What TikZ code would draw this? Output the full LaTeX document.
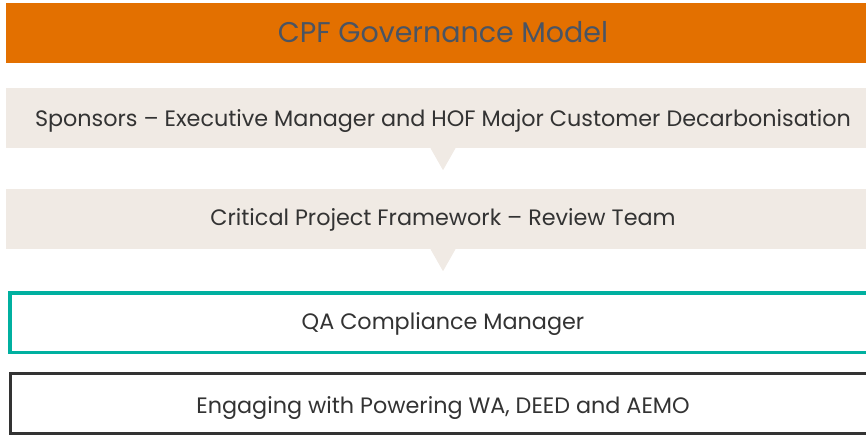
\documentclass[tikz,border=0pt]{standalone}
\usepackage{fontspec}
\setmainfont{Poppins}
\usetikzlibrary{positioning}
\definecolor{cpforange}{HTML}{E37000}
\definecolor{cpfbeige}{HTML}{F0EAE4}
\definecolor{cpfteal}{HTML}{00B0A0}
\definecolor{cpfdark}{HTML}{333333}
\definecolor{cpfslate}{HTML}{4A5463}
\tikzset{
  band/.style={minimum width=874pt, minimum height=60pt, inner sep=0pt,
    text=cpfdark, font=\fontsize{22.3}{26}\selectfont,
    text height=16pt, text depth=0pt},
  framed/.style={band, minimum width=866pt, minimum height=59.5pt, fill=white}
}

\begin{document}
\begin{tikzpicture}[x=1pt, y=1pt]
  \useasboundingbox (0,0) rectangle (866,-435);

  \node [band, fill=cpforange, text=cpfslate, font=\fontsize{28.5}{32}\selectfont, text height=19.4pt] (title) at (443, -33) {CPF Governance Model};
  \node [band, fill=cpfbeige, text height=17.4pt] (sponsors) at (443, -118) {Sponsors – Executive Manager and HOF Major Customer Decarbonisation};
  \node [band, fill=cpfbeige, text height=14pt] (review) at (443, -219) {Critical Project Framework – Review Team};
  \node [framed, draw=cpfteal, line width=3.5pt, text height=13.6pt] (qa) at (443, -322.5) {QA Compliance Manager};
  \node [framed, draw=cpfdark, line width=3pt, text height=19.6pt] (engage) at (443, -403.5) {Engaging with Powering WA, DEED and AEMO};

  % pointers under the beige bands
  \coordinate (tipA) at ([yshift=-22pt]sponsors.south);
  \coordinate (tipB) at ([yshift=-22pt]review.south);
  \fill [cpfbeige] ([xshift=-12.5pt]sponsors.south) -- ([xshift=12.5pt]sponsors.south) -- (tipA) -- cycle;
  \fill [cpfbeige] ([xshift=-12.5pt]review.south) -- ([xshift=12.5pt]review.south) -- (tipB) -- cycle;
\end{tikzpicture}
\end{document}
